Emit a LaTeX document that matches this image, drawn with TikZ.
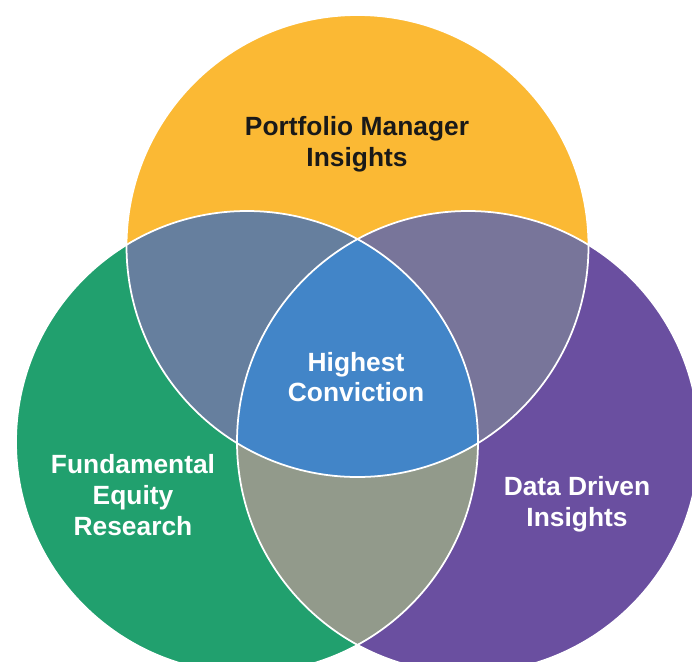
\documentclass[tikz,border=0pt]{standalone}
\usepackage{fontspec}
\setmainfont{Liberation Sans}
\usetikzlibrary{calc}
\definecolor{pmyellow}{RGB}{251,185,52}
\definecolor{fegreen}{RGB}{33,160,110}
\definecolor{ddpurple}{RGB}{106,79,160}
\definecolor{pmfe}{RGB}{102,127,158}
\definecolor{pmdd}{RGB}{120,117,154}
\definecolor{fedd}{RGB}{146,154,139}
\definecolor{coreblue}{RGB}{66,133,200}
\newcommand{\vennr}{4.62}
\tikzstyle{venntext} = [align=center, text centered, font=\fontsize{15}{17.5}\selectfont\bfseries]
\tikzstyle{rim} = [draw=white, line width=1pt]

\begin{document}
\begin{tikzpicture}
		\useasboundingbox (0,0) rectangle (13.84,-13.22);
		\clip (0,0) rectangle (13.84,-13.22);
		%圆心
		\coordinate (pm) at (7.15,-4.92);
		\coordinate (fe) at (4.94,-8.84);
		\coordinate (dd) at (9.36,-8.84);
		
		%三个圆
		\fill [pmyellow] (pm) circle (\vennr);
		\fill [fegreen] (fe) circle (\vennr);
		\fill [ddpurple] (dd) circle (\vennr);
		
		%两两相交
		\begin{scope}
			\clip (pm) circle (\vennr);
			\fill [pmfe] (fe) circle (\vennr);
			\fill [pmdd] (dd) circle (\vennr);
		\end{scope}
		\begin{scope}
			\clip (fe) circle (\vennr);
			\fill [fedd] (dd) circle (\vennr);
		\end{scope}
		
		%中间
		\begin{scope}
			\clip (pm) circle (\vennr);
			\clip (fe) circle (\vennr);
			\fill [coreblue] (dd) circle (\vennr);
		\end{scope}
		
		%白色边线
		\draw [rim] (pm) circle (\vennr);
		\draw [rim] (fe) circle (\vennr);
		\draw [rim] (dd) circle (\vennr);
		
		%文字
		\node (pmtext) [venntext, text=black!90] at (7.14,-2.88) {Portfolio Manager\\Insights};
		\node (coretext) [venntext, text=white] at (7.12,-7.54) {Highest\\Conviction};
		\node (fetext) [venntext, text=white] at (2.66,-9.90) {Fundamental\\Equity\\Research};
		\node (ddtext) [venntext, text=white] at (11.54,-10.08) {Data Driven\\Insights};
	\end{tikzpicture}
\end{document}
